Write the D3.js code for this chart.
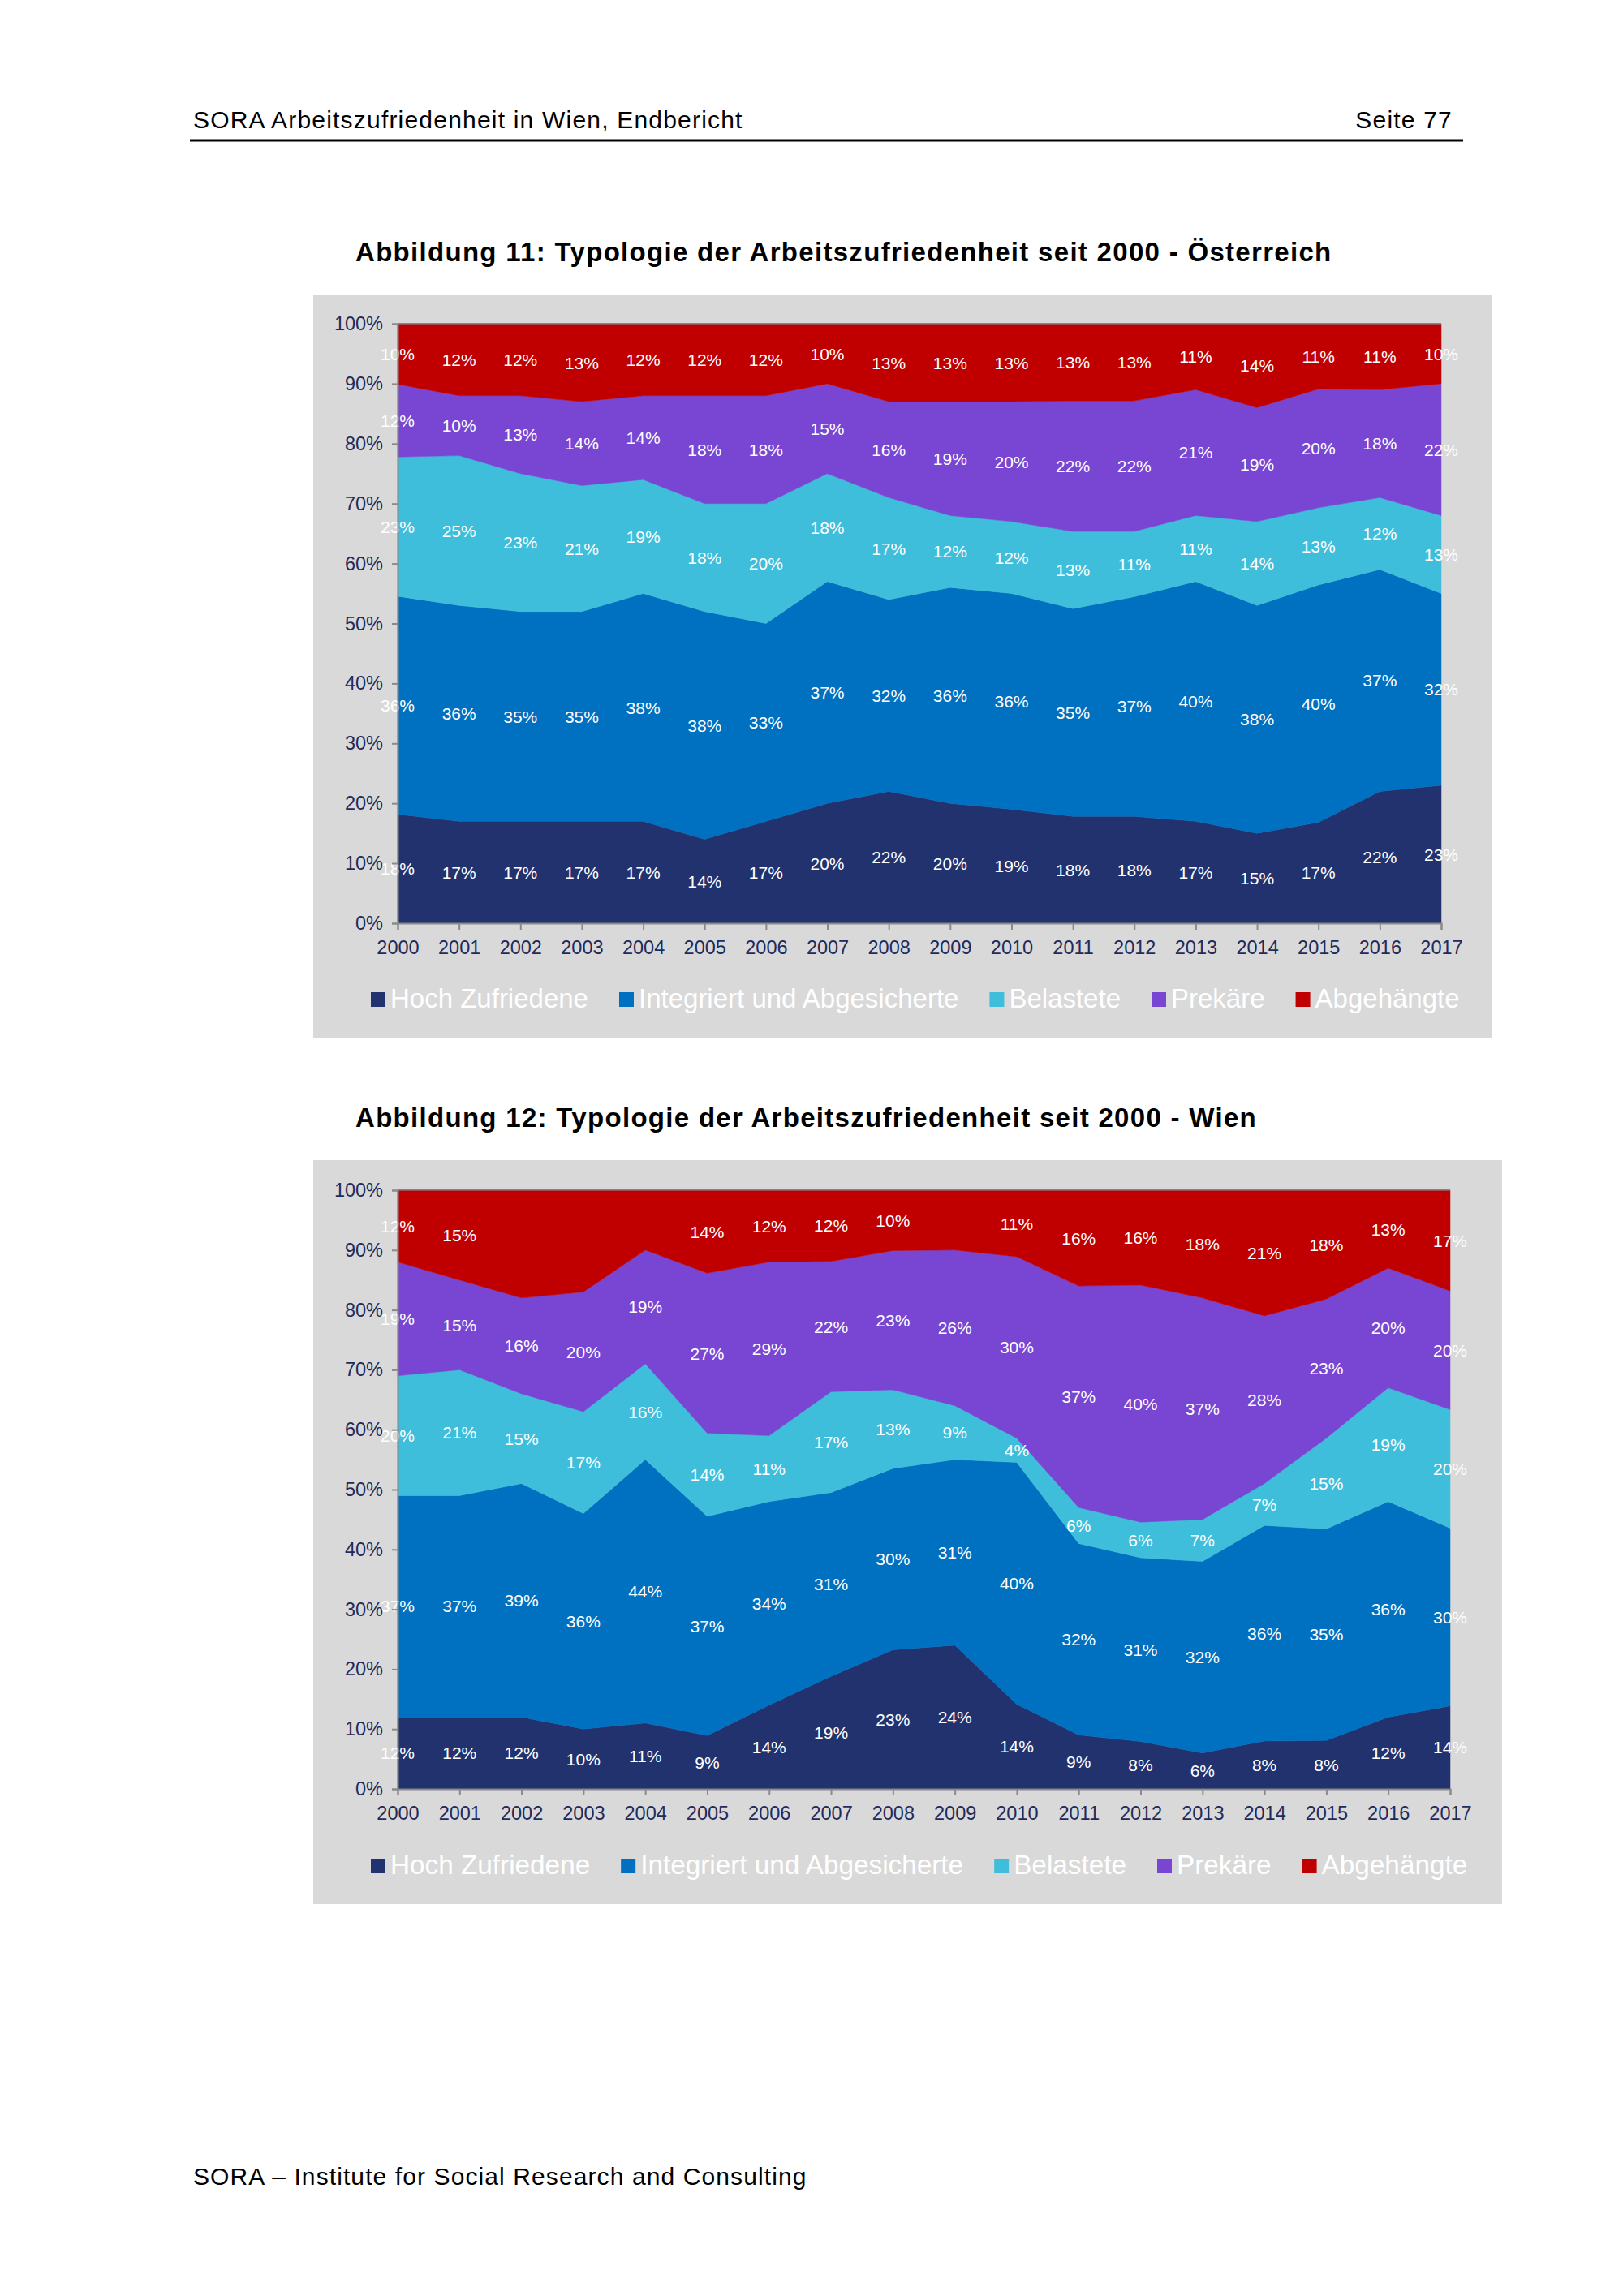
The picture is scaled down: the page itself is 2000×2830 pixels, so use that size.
<!DOCTYPE html>
<html>
<head>
<meta charset="utf-8">
<script src="https://cdn.jsdelivr.net/npm/d3@7"></script>
<style>
  body { margin: 0; background: #fff; }
  svg { display: block; font-family: "Liberation Sans", Arial, Helvetica, sans-serif; }
</style>
</head>
<body>
<div class="canvas"></div>
<script>
// categories and series
const years = ['2000', '2001', '2002', '2003', '2004', '2005', '2006', '2007', '2008',
    '2009', '2010', '2011', '2012', '2013', '2014', '2015', '2016', '2017'];
const seriesNames = ['Hoch Zufriedene', 'Integriert und Abgesicherte', 'Belastete', 'Prekäre', 'Abgehängte'];
const yTicks = [0, 10, 20, 30, 40, 50, 60, 70, 80, 90, 100];

// Abbildung 11 - Österreich
const atHoch = [18, 17, 17, 17, 17, 14, 17, 20, 22, 20, 19, 18, 18, 17, 15, 17, 22, 23];
const atIntegriert = [36, 36, 35, 35, 38, 38, 33, 37, 32, 36, 36, 35, 37, 40, 38, 40, 37, 32];
const atBelastete = [23, 25, 23, 21, 19, 18, 20, 18, 17, 12, 12, 13, 11, 11, 14, 13, 12, 13];
const atPrekaere = [12, 10, 13, 14, 14, 18, 18, 15, 16, 19, 20, 22, 22, 21, 19, 20, 18, 22];
const atAbgehaengte = [10, 12, 12, 13, 12, 12, 12, 10, 13, 13, 13, 13, 13, 11, 14, 11, 11, 10];

// Abbildung 12 - Wien
const wienHoch = [12, 12, 12, 10, 11, 9, 14, 19, 23, 24, 14, 9, 8, 6, 8, 8, 12, 14];
const wienIntegriert = [37, 37, 39, 36, 44, 37, 34, 31, 30, 31, 40, 32, 31, 32, 36, 35, 36, 30];
const wienBelastete = [20, 21, 15, 17, 16, 14, 11, 17, 13, 9, 4, 6, 6, 7, 7, 15, 19, 20];
const wienPrekaere = [19, 15, 16, 20, 19, 27, 29, 22, 23, 26, 30, 37, 40, 37, 28, 23, 20, 20];
const wienAbgehaengte = [12, 15, 18, 17, 10, 14, 12, 12, 10, 10, 11, 16, 16, 18, 21, 18, 13, 17];
// years where the Abgehängte label is not printed in the original
const wienNoLabel = ['2002', '2003', '2004', '2009'];

const colour = d3.scaleOrdinal()
    .domain(seriesNames)
    .range(['#22326e', '#0070c0', '#3fbedb', '#7946d3', '#c00000']);

const textDark = '#1f2b5c';
const axisGrey = '#8a8a8a';

const svg = d3.select('.canvas')
    .append('svg')
    .attr('width', 2000)
    .attr('height', 2830);

// page header / footer
svg.append('text')
    .attr('x', 238).attr('y', 158)
    .attr('font-size', 30)
    .attr('letter-spacing', 1.2)
    .attr('fill', '#000')
    .text('SORA Arbeitszufriedenheit in Wien, Endbericht');
svg.append('text')
    .attr('x', 1790).attr('y', 158)
    .attr('text-anchor', 'end')
    .attr('font-size', 30)
    .attr('letter-spacing', 1.2)
    .attr('fill', '#000')
    .text('Seite 77');
svg.append('line')
    .attr('x1', 234).attr('x2', 1803)
    .attr('y1', 173).attr('y2', 173)
    .attr('stroke', '#000')
    .attr('stroke-width', 3);
svg.append('text')
    .attr('x', 238).attr('y', 2693)
    .attr('font-size', 30)
    .attr('letter-spacing', 1.1)
    .attr('fill', '#000')
    .text('SORA – Institute for Social Research and Consulting');

const makeRows = (cols) => years.map((year, i) => {
    const row = { year };
    seriesNames.forEach((name, j) => row[name] = cols[j][i]);
    return row;
});

const drawChart = (cfg) => {

    svg.append('text')
        .attr('x', 438).attr('y', cfg.titleY)
        .attr('font-size', 33)
        .attr('letter-spacing', 1.3)
        .attr('font-weight', 'bold')
        .attr('fill', '#000')
        .text(cfg.title);

    svg.append('rect')
        .attr('x', cfg.panel.x).attr('y', cfg.panel.y)
        .attr('width', cfg.panel.w).attr('height', cfg.panel.h)
        .attr('fill', '#d9d9d9');

    const data = makeRows(cfg.cols);

    const x = d3.scalePoint()
        .domain(years)
        .range([cfg.plot.left, cfg.plot.right]);

    const y = d3.scaleLinear()
        .domain([0, 1])
        .range([cfg.plot.bottom, cfg.plot.top]);

    const stack = d3.stack()
        .keys(seriesNames)
        .offset(d3.stackOffsetExpand);
    const layers = stack(data);

    const area = d3.area()
        .x(d => x(d.data.year))
        .y0(d => y(d[0]))
        .y1(d => y(d[1]));

    const graph = svg.append('g');

    graph.selectAll('path.layer')
        .data(layers)
        .enter()
        .append('path')
            .attr('class', 'layer')
            .attr('d', area)
            .attr('fill', d => colour(d.key))
            .attr('stroke', d => colour(d.key))
            .attr('stroke-width', 0.5);

    // top border
    graph.append('line')
        .attr('x1', cfg.plot.left).attr('x2', cfg.plot.right)
        .attr('y1', y(1)).attr('y2', y(1))
        .attr('stroke', '#8c6b70')
        .attr('stroke-width', 1.5);

    // axes
    const yAxis = d3.axisLeft(d3.scaleLinear().domain([0, 100]).range([cfg.plot.bottom, cfg.plot.top]))
        .tickValues(yTicks)
        .tickFormat(d => d + '%')
        .tickSizeOuter(0)
        .tickSize(7)
        .tickPadding(11);
    const yG = svg.append('g')
        .attr('transform', `translate(${cfg.plot.left}, 0)`)
        .call(yAxis);

    const xAxis = d3.axisBottom(x)
        .tickSizeOuter(0)
        .tickSize(8)
        .tickPadding(13);
    const xG = svg.append('g')
        .attr('transform', `translate(0, ${cfg.plot.bottom})`)
        .call(xAxis);

    [yG, xG].forEach(g => {
        g.select('.domain').attr('stroke', axisGrey).attr('stroke-width', 2);
        g.selectAll('.tick line').attr('stroke', axisGrey).attr('stroke-width', 2);
        g.selectAll('.tick text')
            .attr('fill', textDark)
            .attr('font-size', 23.5)
            .attr('font-family', '"Liberation Sans", Arial, sans-serif');
    });

    // value labels in the middle of each band
    layers.forEach(layer => {
        graph.selectAll(null)
            .data(layer.filter(d => !(cfg.noLabel[layer.key] || []).includes(d.data.year)))
            .enter()
            .append('text')
                .attr('x', d => x(d.data.year))
                .attr('y', d => y((d[0] + d[1]) / 2))
                .attr('dy', '0.36em')
                .attr('text-anchor', 'middle')
                .attr('font-size', 21)
                .attr('fill', '#fff')
                .text(d => d.data[layer.key] + '%');
    });

    // legend
    const legendGroup = svg.append('g')
        .attr('transform', `translate(457, ${cfg.legendY})`);
    let offset = 0;
    seriesNames.forEach(name => {
        const item = legendGroup.append('g')
            .attr('transform', `translate(${offset}, 0)`);
        item.append('rect')
            .attr('x', 0).attr('y', -19)
            .attr('width', 18).attr('height', 18)
            .attr('fill', colour(name));
        const t = item.append('text')
            .attr('x', 24).attr('y', 0)
            .attr('font-size', cfg.legendSize)
            .attr('fill', '#fff')
            .text(name);
        offset += 24 + t.node().getComputedTextLength() + 38;
    });
};

drawChart({
    title: 'Abbildung 11: Typologie der Arbeitszufriedenheit seit 2000 - Österreich',
    titleY: 322,
    panel: { x: 386, y: 363, w: 1453, h: 916 },
    plot: { left: 490, right: 1776, top: 399, bottom: 1138 },
    cols: [atHoch, atIntegriert, atBelastete, atPrekaere, atAbgehaengte],
    noLabel: {},
    legendY: 1242,
    legendSize: 33
});

drawChart({
    title: 'Abbildung 12: Typologie der Arbeitszufriedenheit seit 2000 - Wien',
    titleY: 1389,
    panel: { x: 386, y: 1430, w: 1465, h: 917 },
    plot: { left: 490, right: 1787, top: 1467, bottom: 2205 },
    cols: [wienHoch, wienIntegriert, wienBelastete, wienPrekaere, wienAbgehaengte],
    noLabel: { 'Abgehängte': wienNoLabel },
    legendY: 2310,
    legendSize: 33.3
});
</script>
</body>
</html>
